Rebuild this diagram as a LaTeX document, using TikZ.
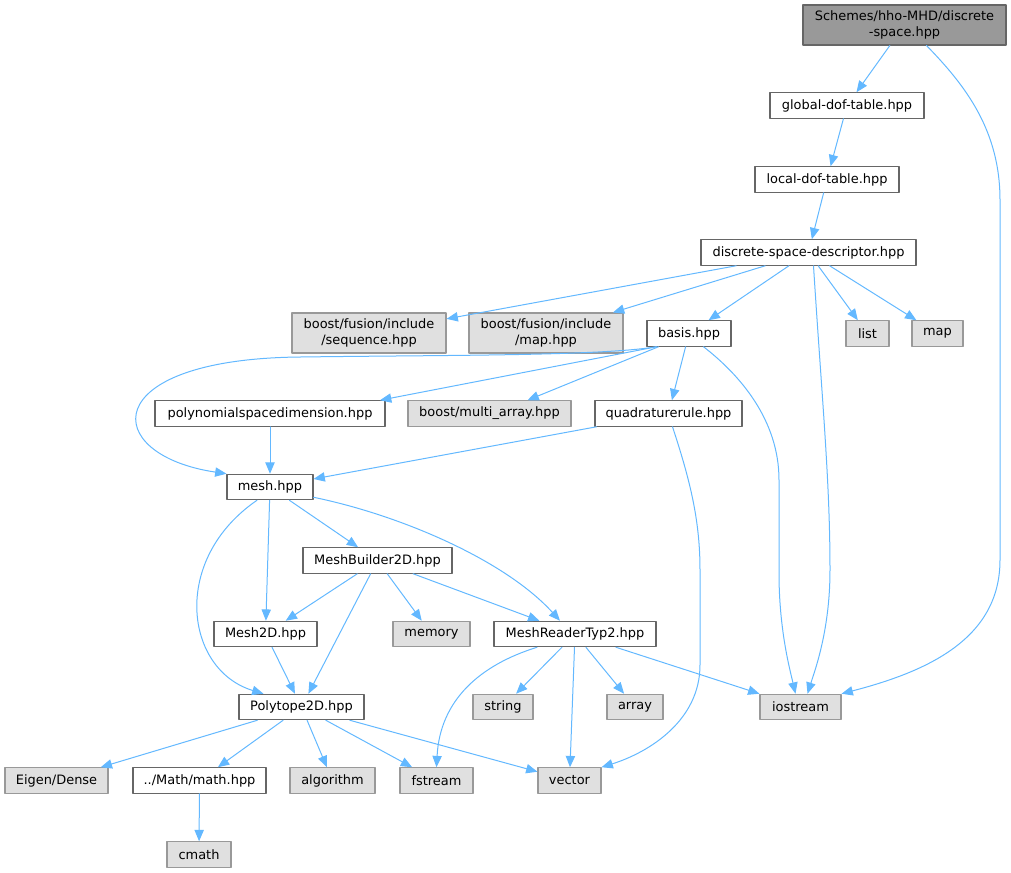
\documentclass[tikz,border=0pt]{standalone}
\usepackage{fontspec}
\setmainfont{DejaVu Sans}
\usetikzlibrary{arrows.meta,calc}
\definecolor{edgeblue}{HTML}{63B8FF}
\definecolor{extfill}{HTML}{E0E0E0}
\definecolor{extline}{HTML}{999999}
\definecolor{fileline}{HTML}{666666}
\definecolor{rootfill}{HTML}{999999}

\begin{document}
\begin{tikzpicture}[x=0.75pt,y=-0.75pt,line cap=round,line join=round,>={Triangle[length=8.5pt,width=7pt]},
  file/.style={draw=fileline,fill=white,line width=0.8pt,minimum height=19.1pt,inner sep=0pt,font=\fontsize{9.7pt}{11.4pt}\selectfont},
  ext/.style={file,draw=extline,fill=extfill},
  rootbox/.style={file,fill=rootfill,align=center,minimum height=30pt},
  dep/.style={->,draw=edgeblue,line width=0.75pt},
  wd/.style={minimum width=#1*0.75pt}]
      \useasboundingbox (0,0) rectangle (1011,872);
      \node[rootbox,wd=203] (root) at (904.5,25) {Schemes/hho-MHD/discrete\\-space.hpp};
      \node[file,wd=154] (global) at (847,105.5) {global-dof-table.hpp};
      \node[file,wd=144] (local) at (827,179.5) {local-dof-table.hpp};
      \node[file,wd=215] (descriptor) at (808.5,252.5) {discrete-space-descriptor.hpp};
      \node[ext,wd=154,align=center,minimum height=30pt] (seq) at (369,333) {boost/fusion/include\\/sequence.hpp};
      \node[ext,wd=154,align=center,minimum height=30pt] (mapfus) at (546,333) {boost/fusion/include\\/map.hpp};
      \node[file,wd=84] (basis) at (689,333.5) {basis.hpp};
      \node[ext,wd=43] (list) at (867.5,333.5) {list};
      \node[ext,wd=51] (map) at (937.5,333.5) {map};
      \node[file,wd=230] (poly) at (270,413.5) {polynomialspacedimension.hpp};
      \node[ext,wd=163] (multi) at (489.5,413.5) {boost/multi\_array.hpp};
      \node[file,wd=147] (quad) at (668.5,413.5) {quadraturerule.hpp};
      \node[file,wd=86] (mesh) at (270,487) {mesh.hpp};
      \node[file,wd=149] (builder) at (377.5,560.5) {MeshBuilder2D.hpp};
      \node[file,wd=103] (mesh2d) at (265.5,634) {Mesh2D.hpp};
      \node[ext,wd=77] (memory) at (431.5,634) {memory};
      \node[file,wd=162] (reader) at (575,634) {MeshReaderTyp2.hpp};
      \node[file,wd=125] (polytope) at (301.5,707) {Polytope2D.hpp};
      \node[ext,wd=60] (string) at (503,707) {string};
      \node[ext,wd=56] (array) at (635,707) {array};
      \node[ext,wd=81] (iostream) at (800.5,707) {iostream};
      \node[ext,wd=103] (eigen) at (56.5,780.5) {Eigen/Dense};
      \node[file,wd=133] (math) at (199.5,780.5) {../Math/math.hpp};
      \node[ext,wd=85] (algorithm) at (332.5,780.5) {algorithm};
      \node[ext,wd=73] (fstream) at (436.5,780.5) {fstream};
      \node[ext,wd=63] (vector) at (569.5,780.5) {vector};
      \node[ext,wd=64] (cmath) at (199,854.5) {cmath};
      \draw[dep] (root) -- (global);
      \draw[dep] ($(root.south)+(22,0)$) .. controls (965,85) and (1000,130) .. (1000,200) -- (1000,560) .. controls (1000,640) and (925,672) .. (iostream.north east);
      \draw[dep] (global) -- (local);
      \draw[dep] (local) -- (descriptor);
      \draw[dep] (descriptor) -- (seq);
      \draw[dep] (descriptor) -- (mapfus);
      \draw[dep] (descriptor) -- (basis);
      \draw[dep] (descriptor) -- (list);
      \draw[dep] (descriptor) -- (map);
      \draw[dep] ($(descriptor.south)+(5,0)$) .. controls (822,400) and (830,480) .. (830,570) .. controls (830,630) and (815,670) .. ($(iostream.north)+(7,0)$);
      \draw[dep] ($(basis.south west)+(10,0)$) .. controls (600,356) and (450,355) .. (300,357) .. controls (95,359) and (100,455) .. (mesh.north west);
      \draw[dep] ($(basis.south west)+(10,0)$) -- ($(poly.north)+(110,0)$);
      \draw[dep] ($(basis.south west)+(12,0)$) -- ($(multi.north)+(38,0)$);
      \draw[dep] (basis) -- (quad);
      \draw[dep] ($(basis.south east)+(-28,0)$) .. controls (740,375) and (779,420) .. (779,480) -- (779,573) .. controls (779,630) and (790,670) .. ($(iostream.north)+(-5,0)$);
      \draw[dep] (poly) -- (mesh);
      \draw[dep] (quad) -- (mesh);
      \draw[dep] ($(quad.south)+(4,0)$) .. controls (690,480) and (700,520) .. (700,570) -- (700,665) .. controls (700,720) and (650,752) .. (vector.north east);
      \draw[dep] (mesh) -- (builder);
      \draw[dep] (mesh) -- (mesh2d);
      \draw[dep] ($(mesh.south)+(-13,0)$) .. controls (170,560) and (185,670) .. ($(polytope.north)+(-38,0)$);
      \draw[dep] ($(mesh.south east)+(0,-3)$) .. controls (400,515) and (505,560) .. ($(reader.north)+(-15,0)$);
      \draw[dep] (builder) -- (mesh2d);
      \draw[dep] (builder) -- (polytope);
      \draw[dep] (builder) -- (memory);
      \draw[dep] (builder) -- (reader);
      \draw[dep] (mesh2d) -- (polytope);
      \draw[dep] ($(reader.south)+(-38,0)$) .. controls (480,665) and (440,700) .. (fstream.north);
      \draw[dep] (reader) -- (string);
      \draw[dep] (reader) -- (vector);
      \draw[dep] (reader) -- (array);
      \draw[dep] (reader) -- (iostream);
      \draw[dep] (polytope) -- (eigen);
      \draw[dep] (polytope) -- (math);
      \draw[dep] (polytope) -- (algorithm);
      \draw[dep] (polytope) -- (fstream);
      \draw[dep] (polytope) -- (vector);
      \draw[dep] (math) -- (cmath);
    \end{tikzpicture}
\end{document}
